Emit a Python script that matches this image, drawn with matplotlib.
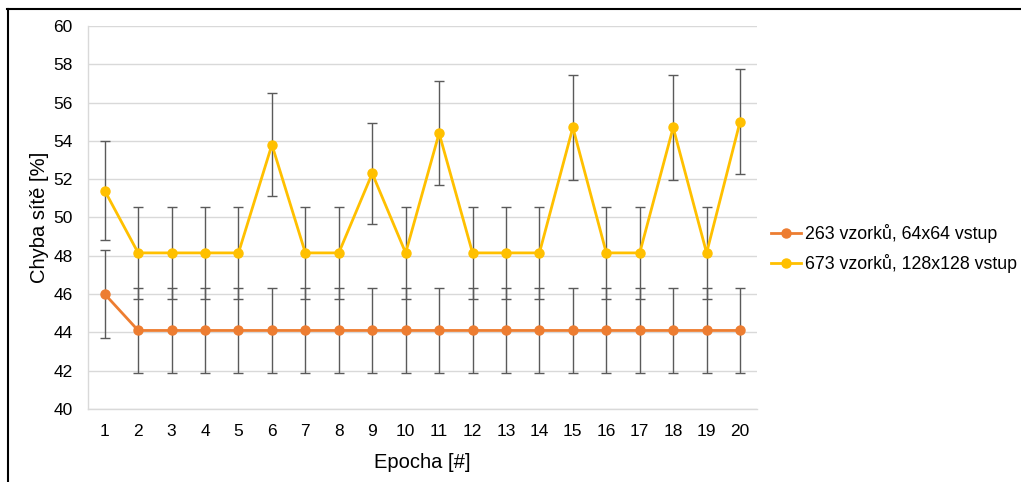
import matplotlib.pyplot as plt
from matplotlib.lines import Line2D
import numpy as np

plt.rcParams['font.family'] = ['Liberation Sans', 'DejaVu Sans']

# data
epochs = list(range(1, 21))
small_vals = [46.0] + [44.1] * 19
small_err = [2.3] + [2.2] * 19
large_vals = [51.4, 48.15, 48.15, 48.15, 48.15, 53.8, 48.15, 48.15, 52.3, 48.15,
              54.4, 48.15, 48.15, 48.15, 54.7, 48.15, 48.15, 54.7, 48.15, 55.0]
large_err = [2.57, 2.41, 2.41, 2.41, 2.41, 2.69, 2.41, 2.41, 2.62, 2.41,
             2.72, 2.41, 2.41, 2.41, 2.73, 2.41, 2.41, 2.73, 2.41, 2.75]
labels = ['263 vzorků, 64x64 vstup', '673 vzorků, 128x128 vstup']

orange = '#ED7D31'
yellow = '#FFC000'
errc = '#5A5A5A'
gridc = '#D9D9D9'

fig = plt.figure(figsize=(10.21, 4.82), dpi=100)
ax = fig.add_axes([0.0862, 0.1515, 0.655, 0.7946])

x = np.arange(len(epochs))
for vals, err, col, lab in [(small_vals, small_err, orange, labels[0]),
                            (large_vals, large_err, yellow, labels[1])]:
    ax.errorbar(x, vals, yerr=err, fmt='none', ecolor=errc, elinewidth=1,
                capsize=3.5, capthick=1, zorder=3)
    ax.plot(x, vals, color=col, lw=2, marker='o', ms=6.5, label=lab, zorder=4)

ax.set_xlim(-0.5, len(epochs) - 0.5)
ax.set_ylim(40, 60)
ax.set_yticks(np.arange(40, 61, 2))
ax.set_xticks(x)
ax.set_xticklabels([str(e) for e in epochs])
ax.grid(axis='y', color=gridc, lw=1)
ax.set_axisbelow(True)
for s in ['top', 'right']:
    ax.spines[s].set_visible(False)
for s in ['left', 'bottom']:
    ax.spines[s].set_color(gridc)
    ax.spines[s].set_linewidth(1)
ax.tick_params(length=0, labelsize=12.5, colors='black')
ax.tick_params(axis='y', pad=11)
ax.tick_params(axis='x', pad=11)

ax.set_ylabel('Chyba sítě [%]', fontsize=14.5, labelpad=3)
ax.set_xlabel('Epocha [#]', fontsize=14.5, labelpad=10)

ax.legend(loc='center left', bbox_to_anchor=(0.997, 0.419), frameon=False,
          fontsize=12.8, handlelength=1.7, handletextpad=0.2, labelspacing=0.6)

# outer frame (top and left edges only visible)
fig.add_artist(Line2D([7 / 1021, 1], [1 - 8.5 / 482, 1 - 8.5 / 482],
                      color='black', lw=1.5, transform=fig.transFigure))
fig.add_artist(Line2D([7.5 / 1021, 7.5 / 1021], [0, 1 - 8.5 / 482],
                      color='black', lw=1.5, transform=fig.transFigure))

fig.savefig('out.png', dpi=100)
